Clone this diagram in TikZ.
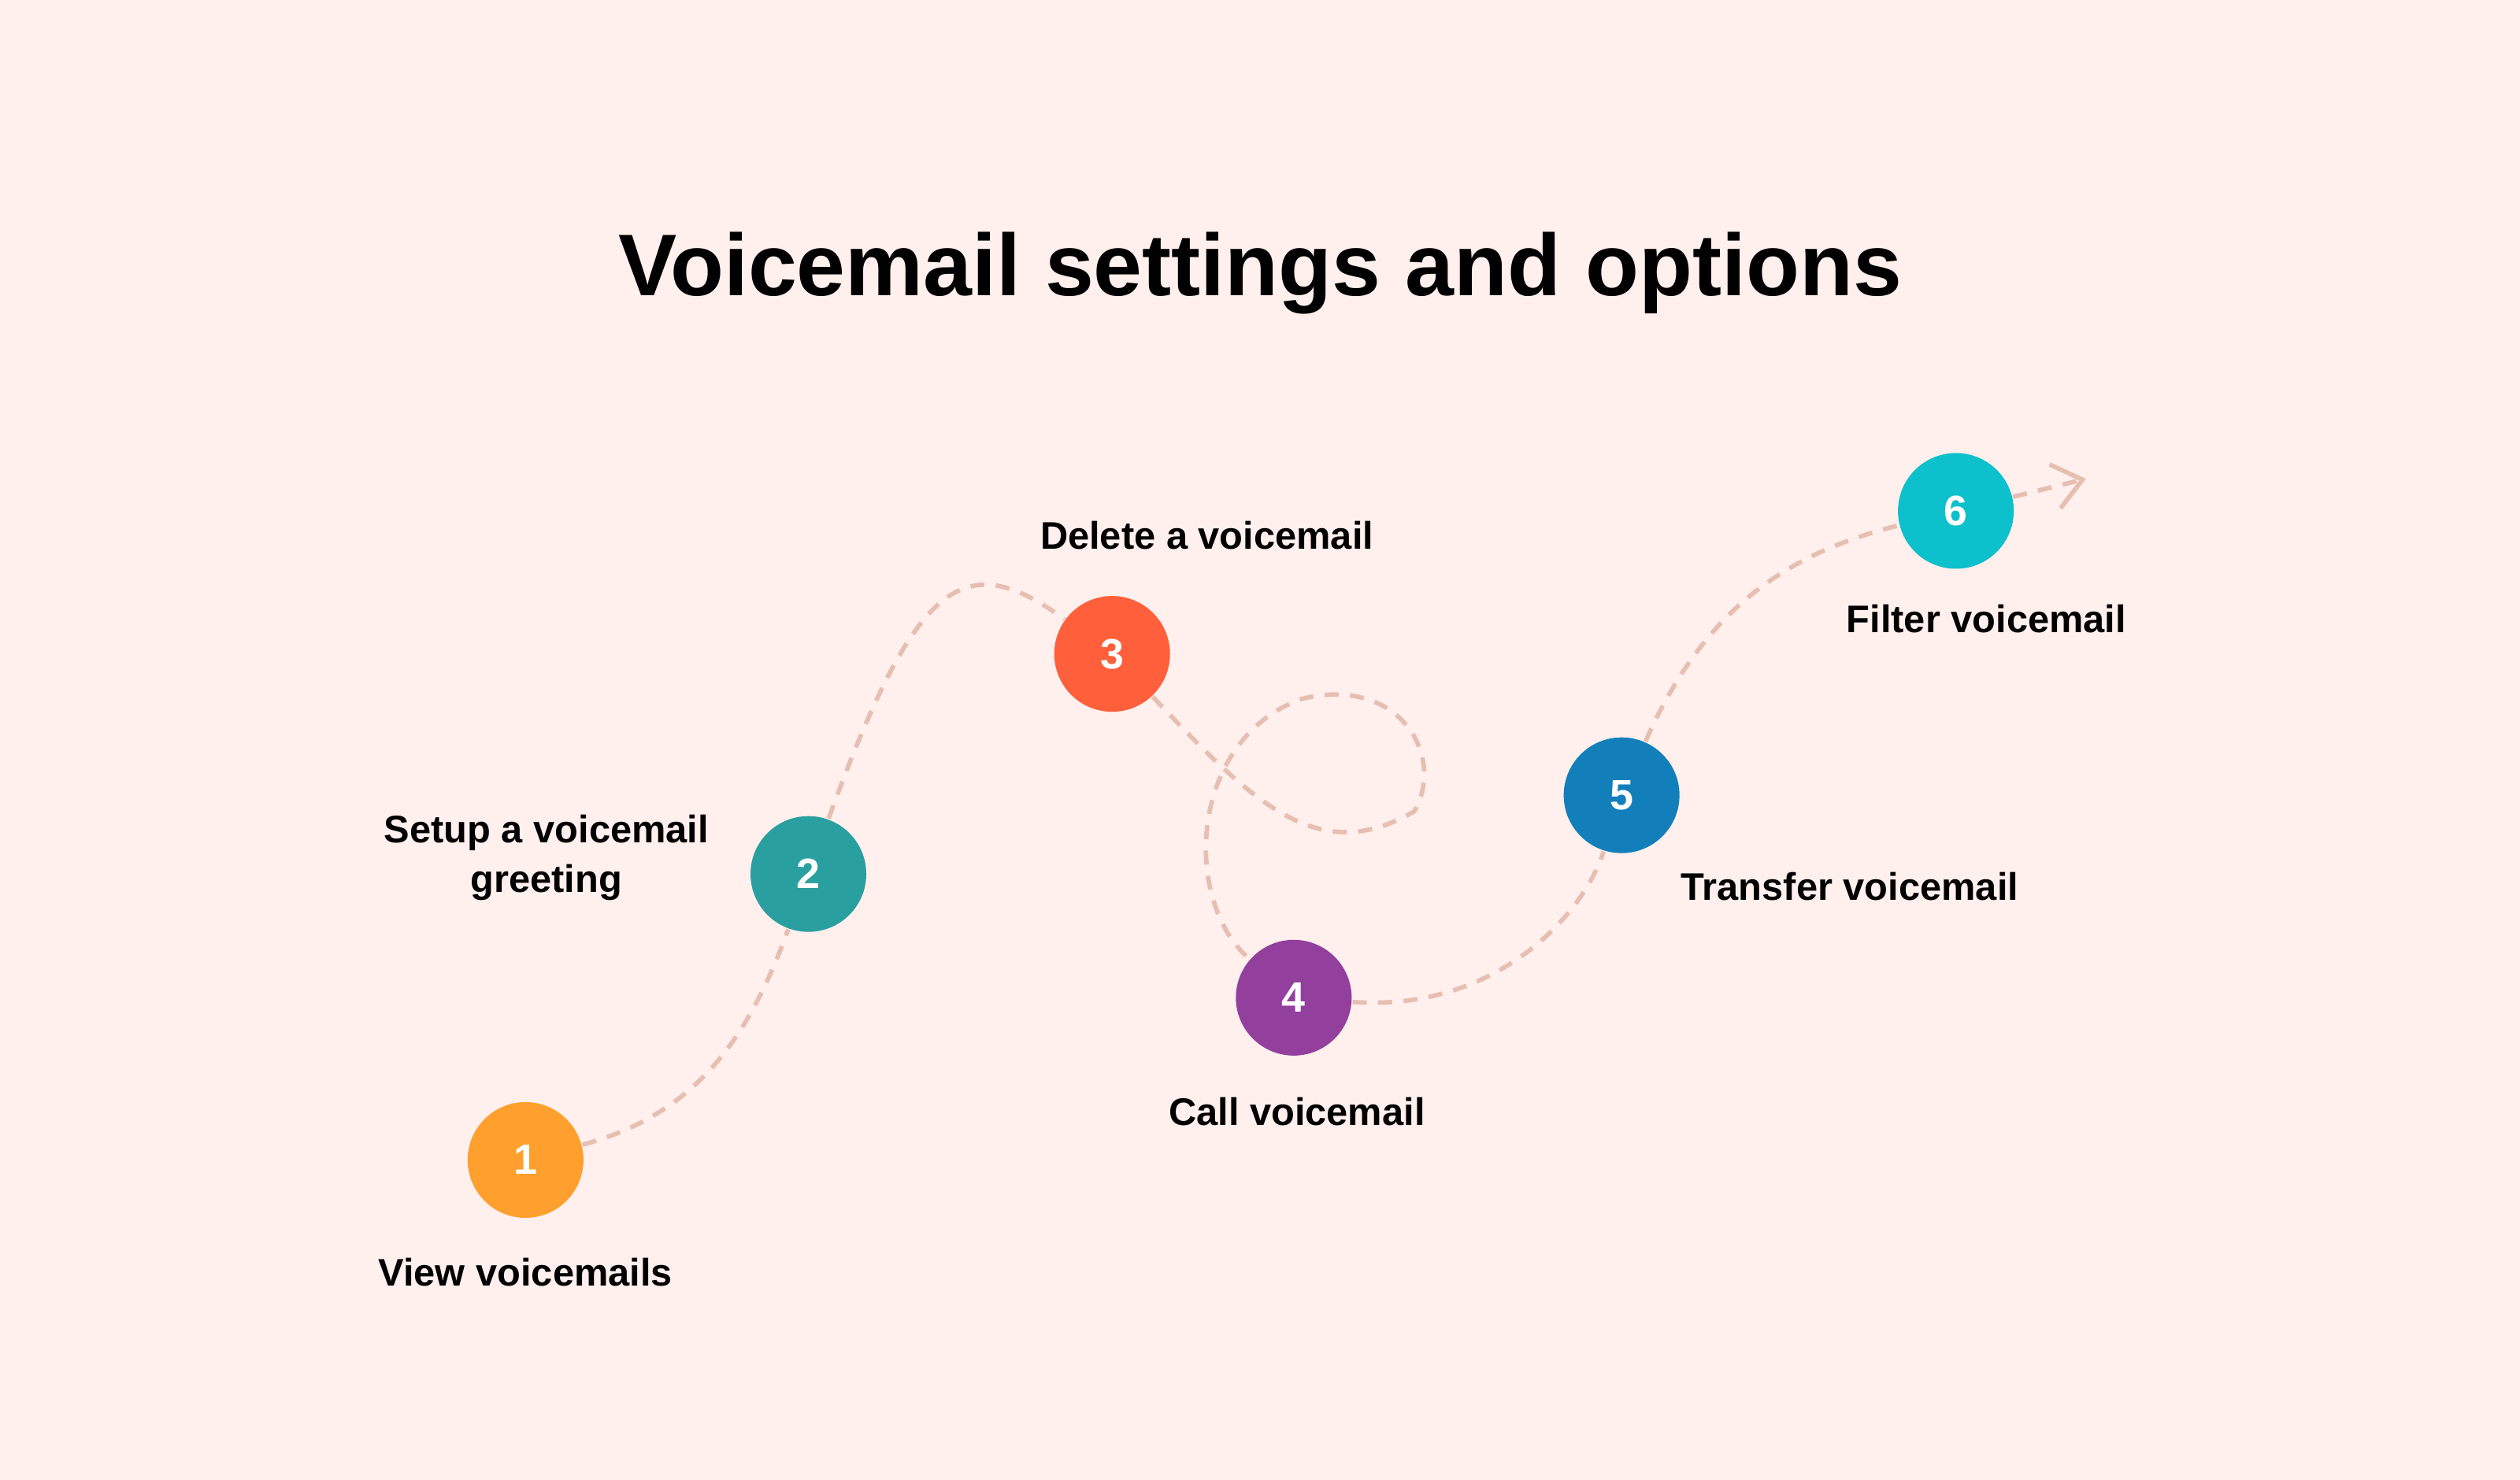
\documentclass[tikz,border=0pt]{standalone}
\usepackage{fontspec}
\setmainfont{Liberation Sans}
\usetikzlibrary{positioning, arrows.meta}
\definecolor{bgpink}{HTML}{FFF0ED}
\definecolor{trail}{HTML}{E6BFB2}
\definecolor{cone}{HTML}{FF9F2E}
\definecolor{ctwo}{HTML}{2A9FA0}
\definecolor{cthree}{HTML}{FF5F3A}
\definecolor{cfour}{HTML}{933F9E}
\definecolor{cfive}{HTML}{127FBA}
\definecolor{csix}{HTML}{0CC0CC}
\tikzset {
    x=0.01cm, y=-0.01cm,
    stop/.style={circle, minimum size=0.72cm, inner sep=0pt, text=white, font=\bfseries\fontsize{7.5}{8}\selectfont},
    caption/.style={font=\bfseries\fontsize{6.8}{8.8}\selectfont, align=center},
    path/.style={trail, dashed, line width=0.8pt, dash pattern=on 2.5pt off 2pt}
}
\begin{document}
\begin{tikzpicture}
    \fill[bgpink] (0,0) rectangle (1568,921);
    \node[font=\bfseries\fontsize{15.5}{18}\selectfont] (title) at (784,170) {Voicemail settings and options};

    \node[stop, fill=cone] (s1) at (327,722) {1};
    \node[stop, fill=ctwo] (s2) at (503,544) {2};
    \node[stop, fill=cthree] (s3) at (692,407) {3};
    \node[stop, fill=cfour] (s4) at (805,621) {4};
    \node[stop, fill=cfive] (s5) at (1009,495) {5};
    \node[stop, fill=csix] (s6) at (1217,318) {6};
    \coordinate (tip) at (1298,298);

    \node[caption] (l1) at (327,792) {View voicemails};
    \node[caption] (l2) at (340,534) {Setup a voicemail\\greeting};
    \node[caption] (l3) at (751,333) {Delete a voicemail};
    \node[caption] (l4) at (807,692) {Call voicemail};
    \node[caption] (l5) at (1151,552) {Transfer voicemail};
    \node[caption] (l6) at (1236,385) {Filter voicemail};

    \draw[path] (s1) to[out=15, in=250] (s2);
    \draw[path] (s2) .. controls (570,360) and (600,340) .. (s3);
    \draw[path] (s3) .. controls (780,500) and (820,540) .. (880,505)
        .. controls (900,470) and (870,420) .. (810,435)
        .. controls (740,460) and (735,560) .. (s4);
    \draw[path] (s4) .. controls (930,630) and (985,570) .. (s5);
    \draw[path] (s5) .. controls (1060,380) and (1110,345) .. (s6);
    \draw[path, -{Straight Barb[length=5pt, width=8pt]}] (s6) -- (tip);
\end{tikzpicture}
\end{document}
